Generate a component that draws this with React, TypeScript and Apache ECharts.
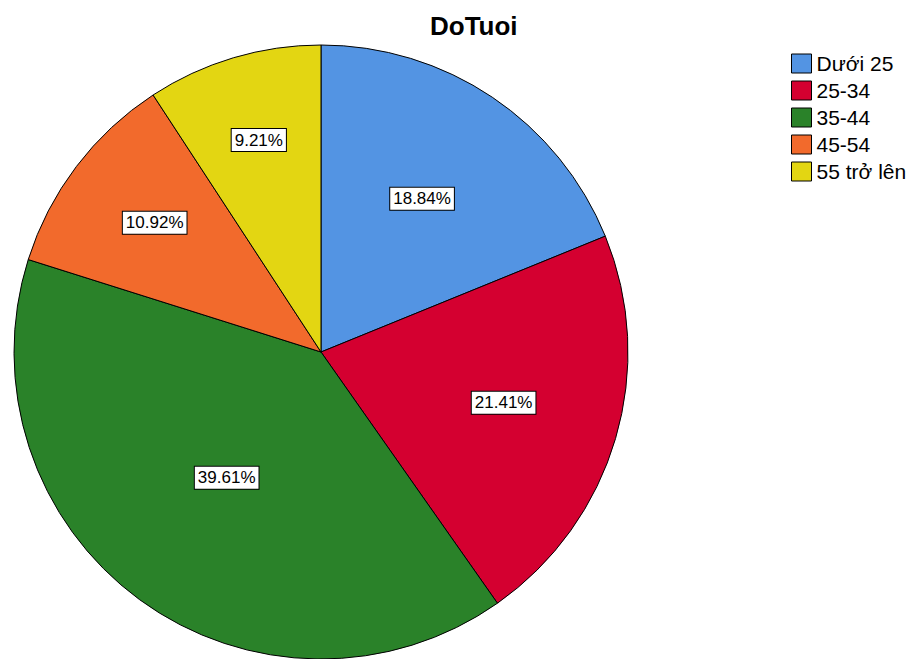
import React, { useEffect, useRef } from "react";
import * as echarts from "echarts";

const title = "DoTuoi";
const categories = ["Dưới 25", "25-34", "35-44", "45-54", "55 trở lên"];
const percents = [18.84, 21.41, 39.61, 10.92, 9.21];
const colors = ["#5394E3", "#D40030", "#2A8229", "#F26A2C", "#E3D612"];
// radial position of each percentage label as a fraction of the pie radius
const labelRadiusFraction = [0.59, 0.62, 0.52, 0.68, 0.71];

const CX = 321;
const CY = 352;
const R = 307;

export default function App() {
  const ref = useRef<HTMLDivElement>(null);
  useEffect(() => {
    if (!ref.current) return;
    const chart = echarts.init(ref.current, undefined, { renderer: "svg" });
    const total = percents.reduce((a, b) => a + b, 0);
    const cum: number[] = [];
    let acc = 0;
    percents.forEach((v) => {
      cum.push(acc + v / 2);
      acc += v;
    });
    chart.setOption({
      animation: false,
      backgroundColor: "#ffffff",
      title: {
        text: title,
        left: 425,
        top: 8,
        textStyle: {
          fontFamily: "Liberation Sans",
          fontWeight: "bold",
          fontSize: 26,
          color: "#000",
        },
      },
      legend: {
        orient: "vertical",
        left: 786,
        top: 48,
        itemWidth: 20,
        itemHeight: 19,
        itemGap: 6,
        icon: "rect",
        data: categories,
        itemStyle: { borderColor: "#000", borderWidth: 1 },
        textStyle: {
          fontFamily: "Liberation Sans",
          fontSize: 21,
          lineHeight: 21,
          color: "#000",
        },
      },
      series: [
        {
          type: "pie",
          center: [CX, CY],
          radius: R,
          startAngle: 90,
          clockwise: true,
          color: colors,
          itemStyle: { borderColor: "#000", borderWidth: 1 },
          label: {
            show: true,
            position: "inside",
            formatter: (p: any) => percents[p.dataIndex].toFixed(2) + "%",
            backgroundColor: "#fff",
            borderColor: "#000",
            borderWidth: 1,
            padding: [3, 3, 2, 3],
            fontFamily: "Liberation Sans",
            fontSize: 17,
            color: "#000",
          },
          labelLine: { show: false },
          labelLayout: (params: any) => {
            const i = params.dataIndex;
            const ang = (cum[i] / total) * 2 * Math.PI;
            const r = labelRadiusFraction[i] * R;
            return {
              x: CX + r * Math.sin(ang),
              y: CY - r * Math.cos(ang) - 3,
              align: "center",
              verticalAlign: "middle",
            };
          },
          emphasis: { disabled: true },
          data: categories.map((c, i) => ({ name: c, value: percents[i] })),
        },
      ],
    });
    return () => chart.dispose();
  }, []);
  return (
    <div
      ref={ref}
      style={{ position: "fixed", left: 0, top: 0, width: 908, height: 659 }}
    />
  );
}
